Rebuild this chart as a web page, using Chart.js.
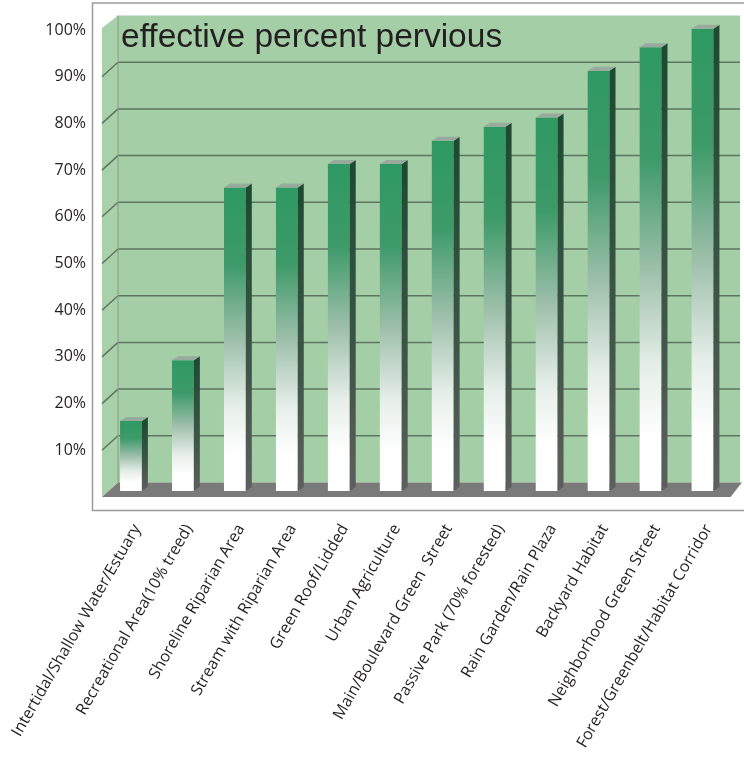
<!DOCTYPE html>
<html lang="en">
<head>
  <meta charset="UTF-8">
  <title>effective percent pervious</title>
  <style>
    html, body { margin: 0; padding: 0; background: #fff; }
    .chart-box { width: 744px; height: 761px; position: relative; }
  </style>
  <script src="https://cdn.jsdelivr.net/npm/chart.js"></script>
</head>
<body>
  <div class="chart-box"><canvas id="graficaPervious"></canvas></div>

  <script>
    const categories = [
      'Intertidal/Shallow Water/Estuary',
      'Recreational Area(10% treed)',
      'Shoreline Riparian Area',
      'Stream with Riparian Area',
      'Green Roof/Lidded',
      'Urban Agriculture',
      'Main/Boulevard Green  Street',
      'Passive Park (70% forested)',
      'Rain Garden/Rain Plaza',
      'Backyard Habitat',
      'Neighborhood Green Street',
      'Forest/Greenbelt/Habitat Corridor'
    ];
    const perviousValues = [15, 28, 65, 65, 70, 70, 75, 78, 80, 90, 95, 99];
    const tickValues = [10, 20, 30, 40, 50, 60, 70, 80, 90, 100];
    const chartTitle = 'effective percent pervious';

    // depth of the "room": back wall and front edge relative to the bar plane
    const BACK = { dx: 13, dy: -8.5 };
    const FRONT = { dx: -3, dy: 6 };
    const SIDE = { dx: 6, dy: -4 };   // bar side face / cap depth

    function poly(ctx, pts, fill) {
      ctx.beginPath();
      ctx.moveTo(pts[0][0], pts[0][1]);
      for (let i = 1; i < pts.length; i++) ctx.lineTo(pts[i][0], pts[i][1]);
      ctx.closePath();
      ctx.fillStyle = fill;
      ctx.fill();
    }

    // walls, floor, gridlines and title behind the bars
    const roomPlugin = {
      id: 'room',
      beforeDatasetsDraw(chart) {
        const { ctx, chartArea: a, scales: { y } } = chart;
        const y0 = y.getPixelForValue(0), y100 = y.getPixelForValue(100);
        const bl = a.left + BACK.dx, br = a.right + 11.5;
        const fl = a.left + FRONT.dx, fr = a.right;
        const bt = y100 + BACK.dy, bb = y0 + BACK.dy;
        const ft = y100 + 4, fb = y0 + FRONT.dy;
        ctx.save();

        // outer frame
        ctx.strokeStyle = '#9b9b9b';
        ctx.lineWidth = 1.5;
        ctx.strokeRect(a.left - 12.5, 3, chart.width + 20, fb + 13.5 - 3);

        // back wall + side wall
        ctx.fillStyle = '#a4cea6';
        ctx.fillRect(bl, bt, br - bl, bb - bt);
        poly(ctx, [[fl, ft], [bl, bt], [bl, bb], [fl, fb]], '#a8d1aa');

        // gridlines on back wall and side wall
        ctx.strokeStyle = '#5e7562';
        ctx.lineWidth = 1.5;
        tickValues.forEach(v => {
          if (v >= 100) return;
          const py = y.getPixelForValue(v);
          ctx.beginPath();
          ctx.moveTo(bl, py + BACK.dy);
          ctx.lineTo(br, py + BACK.dy);
          ctx.moveTo(fl, py + FRONT.dy);
          ctx.lineTo(bl, py + BACK.dy);
          ctx.stroke();
        });
        ctx.strokeStyle = '#8a9a8c';
        ctx.lineWidth = 1;
        ctx.beginPath();
        ctx.moveTo(bl, bt);
        ctx.lineTo(bl, bb);
        ctx.stroke();

        // floor
        poly(ctx, [[bl, bb], [br + 2, bb], [fr + 2, fb], [fl, fb]], '#7a7a7a');

        // title
        ctx.fillStyle = '#231f20';
        ctx.font = '33.5px "Liberation Sans", Arial, sans-serif';
        ctx.textBaseline = 'alphabetic';
        ctx.fillText(chartTitle, a.left + 16, y100 + 22.7);
        ctx.restore();
      },
      afterDatasetsDraw(chart) {
        const { ctx } = chart;
        const meta = chart.getDatasetMeta(0);
        ctx.save();
        meta.data.forEach(bar => {
          const { x, y, base, width } = bar.getProps(['x', 'y', 'base', 'width'], true);
          const x0 = x - width / 2, x1 = x + width / 2;
          const g = ctx.createLinearGradient(0, y, 0, base);
          g.addColorStop(0, '#1d4a31');
          g.addColorStop(0.6, '#3f5548');
          g.addColorStop(1, '#5e5f5e');
          poly(ctx, [[x1, y], [x1 + SIDE.dx, y + SIDE.dy], [x1 + SIDE.dx, base + SIDE.dy], [x1, base]], g);
          poly(ctx, [[x0, y], [x0 + SIDE.dx, y + SIDE.dy], [x1 + SIDE.dx, y + SIDE.dy], [x1, y]], '#98a99d');
        });
        ctx.restore();
      }
    };

    function barGradient(c) {
      const chart = c.chart;
      if (!chart.chartArea || !chart.scales.y) return '#2e9963';
      const top = chart.scales.y.getPixelForValue(c.raw);
      const base = chart.scales.y.getPixelForValue(0);
      const g = chart.ctx.createLinearGradient(0, top, 0, base);
      g.addColorStop(0, '#2e9963');
      g.addColorStop(0.25, '#3d9a69');
      g.addColorStop(0.5, '#9dbfaa');
      g.addColorStop(0.72, '#e6eee9');
      g.addColorStop(0.88, '#ffffff');
      g.addColorStop(1, '#ffffff');
      return g;
    }

    new Chart(document.getElementById('graficaPervious'), {
      type: 'bar',
      data: {
        labels: categories,
        datasets: [{
          data: perviousValues,
          backgroundColor: barGradient,
          borderWidth: 0,
          categoryPercentage: 1,
          barPercentage: 0.42
        }]
      },
      options: {
        responsive: true,
        maintainAspectRatio: false,
        animation: false,
        layout: { padding: { top: 24, right: 15.5, bottom: 0, left: 0 } },
        plugins: {
          legend: { display: false },
          tooltip: { enabled: false }
        },
        scales: {
          x: {
            grid: { display: false },
            border: { display: false },
            afterFit: s => { s.height = 270; s.paddingLeft = 0; s.paddingRight = 0; },
            ticks: {
              autoSkip: false,
              minRotation: 60,
              maxRotation: 60,
              padding: 22,
              labelOffset: 6,
              color: '#231f20',
              font: { family: '"Open Sans", sans-serif', size: 16 }
            }
          },
          y: {
            min: 0,
            max: 100,
            grid: { display: false },
            border: { display: false },
            afterFit: s => { s.width = 105; },
            afterBuildTicks: s => { s.ticks = tickValues.map(v => ({ value: v })); },
            ticks: {
              padding: 11,
              labelOffset: 6,
              color: '#231f20',
              font: { family: '"Open Sans", sans-serif', size: 16 },
              callback: v => v + '%'
            }
          }
        }
      },
      plugins: [roomPlugin]
    });
  </script>
</body>
</html>
